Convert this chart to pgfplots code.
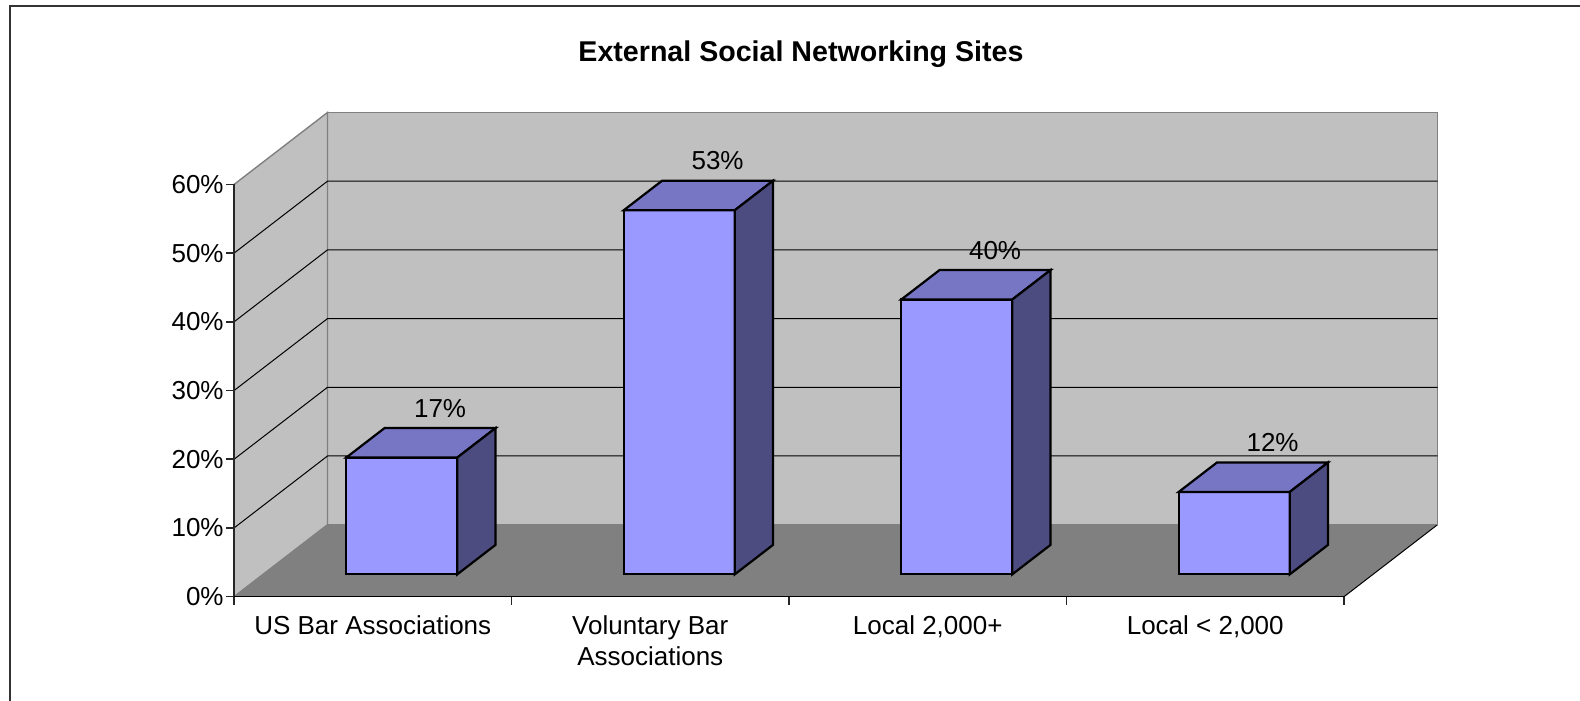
\documentclass[border=0pt]{standalone}
\usepackage{fontspec}
\setmainfont{Liberation Sans}
\usepackage{pgfplots}
\pgfplotsset{compat=1.18}

\definecolor{wall}{HTML}{C0C0C0}
\definecolor{floorc}{HTML}{808080}
\definecolor{edge}{HTML}{808080}
\definecolor{barfront}{HTML}{9999FF}
\definecolor{bartop}{HTML}{7676C5}
\definecolor{barside}{HTML}{4C4C80}

% one 3d bar: left x, right x, value (%)
\newcommand{\cuboid}[3]{%
  \addplot3[fill=barfront, draw=black, line width=1.1pt]
    coordinates {(#1,0.31,0) (#2,0.31,0) (#2,0.31,#3) (#1,0.31,#3)} -- cycle;
  \addplot3[fill=bartop, draw=black, line width=1.1pt]
    coordinates {(#1,0.31,#3) (#2,0.31,#3) (#2,0.72,#3) (#1,0.72,#3)} -- cycle;
  \addplot3[fill=barside, draw=black, line width=1.1pt]
    coordinates {(#2,0.31,0) (#2,0.72,0) (#2,0.72,#3) (#2,0.31,#3)} -- cycle;
}
\newcommand{\lfont}{\fontsize{13}{15.5}\selectfont}

\begin{document}
\begin{tikzpicture}[x=0.5pt,y=0.5pt]
\useasboundingbox (0,0) rectangle (1580,701);
\draw[line width=1pt, color=black!80] (9.5,0) -- (9.5,694.5) -- (1580,694.5);
\node[anchor=base, inner sep=0pt, font=\bfseries\fontsize{14.3}{17}\selectfont]
  at (801,639) {External Social Networking Sites};

\begin{axis}[
  anchor=origin, at={(117pt,52.15pt)},
  x={(138.75pt,0pt)}, y={(46.75pt,36pt)}, z={(0pt,3.435pt)},
  xmin=0, xmax=4, ymin=0, ymax=1, zmin=0, zmax=60,
  hide axis, clip=false,
]
  % walls and floor
  \addplot3[fill=wall, draw=edge, line width=0.7pt]
    coordinates {(0,1,0) (4,1,0) (4,1,60) (0,1,60)} -- cycle;
  \addplot3[fill=wall, draw=edge, line width=0.7pt]
    coordinates {(0,0,0) (0,1,0) (0,1,60) (0,0,60)} -- cycle;
  \addplot3[fill=floorc, draw=none]
    coordinates {(0,0,0) (4,0,0) (4,1,0) (0,1,0)} -- cycle;
  \addplot3[black, line width=0.5pt] coordinates {(4,0,0) (4,1,0)};
  \addplot3[edge, line width=0.7pt] coordinates {(0,1,0) (4,1,0)};

  % gridlines
  \pgfplotsinvokeforeach{10,20,30,40,50}{
    \addplot3[black, line width=0.5pt] coordinates {(0,0,#1) (0,1,#1) (4,1,#1)};
  }

  % front axes
  \addplot3[black!85, line width=0.8pt] coordinates {(0,0,0) (0,0,60)};
  \addplot3[black, line width=0.8pt] coordinates {(0,0,0) (4,0,0)};
  \pgfplotsinvokeforeach{0,10,20,30,40,50,60}{
    \draw[black!85, line width=0.8pt] (axis cs:0,0,#1) -- ++(-4pt,0pt);
    \node[anchor=east, inner sep=0pt, xshift=-5pt, font=\lfont]
      at (axis cs:0,0,#1) {#1\%};
  }
  \pgfplotsinvokeforeach{0,1,2,3,4}{
    \draw[black!85, line width=0.6pt] (axis cs:#1,0,0) -- ++(0pt,-4pt);
  }

  % category labels
  \node[anchor=north, align=center, inner sep=0pt, yshift=-9.35pt, font=\lfont]
    at (axis cs:0.5,0,0) {US Bar Associations};
  \node[anchor=north, align=center, inner sep=0pt, yshift=-9.35pt, font=\lfont]
    at (axis cs:1.5,0,0) {Voluntary Bar\\Associations};
  \node[anchor=north, align=center, inner sep=0pt, yshift=-9.35pt, font=\lfont]
    at (axis cs:2.5,0,0) {Local 2,000+};
  \node[anchor=north, align=center, inner sep=0pt, yshift=-9.35pt, font=\lfont]
    at (axis cs:3.5,0,0) {Local < 2,000};

  % bars
  \cuboid{0.3}{0.7}{17}
  \cuboid{1.3}{1.7}{53}
  \cuboid{2.3}{2.7}{40}
  \cuboid{3.3}{3.7}{12}

  % value labels
  \node[anchor=base, inner sep=0pt, yshift=5.5pt, font=\lfont] at (axis cs:0.5,0.72,17) {17\%};
  \node[anchor=base, inner sep=0pt, yshift=5.5pt, font=\lfont] at (axis cs:1.5,0.72,53) {53\%};
  \node[anchor=base, inner sep=0pt, yshift=5.5pt, font=\lfont] at (axis cs:2.5,0.72,40) {40\%};
  \node[anchor=base, inner sep=0pt, yshift=5.5pt, font=\lfont] at (axis cs:3.5,0.72,12) {12\%};
\end{axis}
\end{tikzpicture}
\end{document}
